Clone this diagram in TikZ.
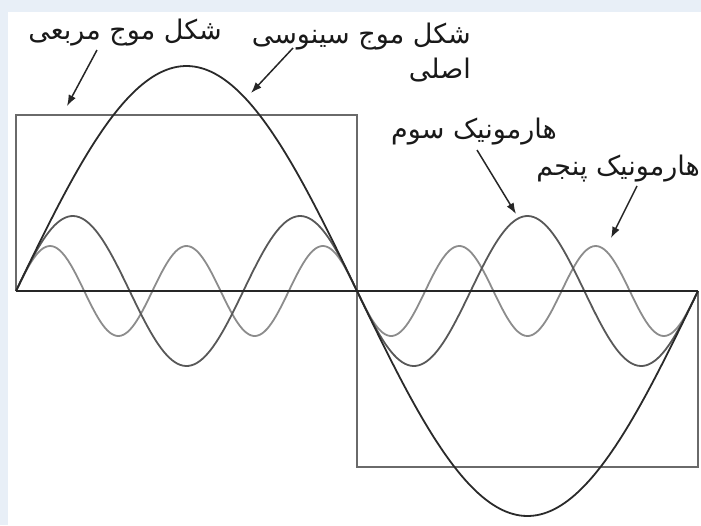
\documentclass[tikz,border=0pt]{standalone}
\usepackage{fontspec}
\newfontfamily\arabicfont[Script=Arabic]{DejaVu Sans}
\TeXXeTstate=1
\usetikzlibrary{arrows.meta}
\definecolor{bgblue}{HTML}{E8EFF7}
\definecolor{fundc}{HTML}{2A2A2A}
\definecolor{thirdc}{HTML}{585858}
\definecolor{fifthc}{HTML}{8C8C8C}
\definecolor{squarec}{HTML}{6A6A6A}
\tikzset{
  lbl/.style={font=\arabicfont\fontsize{27}{32}\selectfont, inner sep=0pt, text=black!90},
  pointer/.style={draw=black!85, line width=1.5pt, -{Latex[length=11pt,width=8pt]}},
  wave/.style={line width=1.8pt, line join=round},
}
\begin{document}
\begin{tikzpicture}[x=1pt,y=-1pt]
\useasboundingbox (0,0) rectangle (701,525);
\fill[bgblue] (0,0) rectangle (701,12);
\fill[bgblue] (0,0) rectangle (8,525);
% square wave
\draw[draw=squarec, line width=2pt]
  (16,291) -- (16,115) -- (357,115) -- (357,467) -- (698,467) -- (698,291);
% harmonics
\draw[wave, draw=fifthc] plot[domain=16:698, samples=300] (\x, {291-45*sin(2.639296*(\x-16))});
\draw[wave, draw=thirdc] plot[domain=16:698, samples=250] (\x, {291-75*sin(1.583578*(\x-16))});
\draw[wave, draw=fundc] plot[domain=16:698, samples=200] (\x, {291-225*sin(0.527859*(\x-16))});
% axis
\draw[line width=2.2pt, draw=black!85] (16,291) -- (698,291);
% labels
\node[lbl, anchor=east] (sq) at (222,33) {\beginR شکل موج مربعی\endR};
\node[lbl, anchor=east] (sin1) at (471,37) {\beginR شکل موج سینوسی\endR};
\node[lbl, anchor=east] (sin2) at (471,70) {\beginR اصلی\endR};
\node[lbl, anchor=east] (h3) at (557,132) {\beginR هارمونیک سوم\endR};
\node[lbl, anchor=east] (h5) at (700,169) {\beginR هارمونیک پنجم\endR};
% arrow endpoints
\coordinate (sqs) at (97,50);
\coordinate (sqt) at (67,106);
\coordinate (sins) at (293,48);
\coordinate (sint) at (251,93);
\coordinate (h3s) at (477,150);
\coordinate (h3t) at (516,214);
\coordinate (h5s) at (637,186);
\coordinate (h5t) at (611,238);
\draw[pointer] (sqs) -- (sqt);
\draw[pointer] (sins) -- (sint);
\draw[pointer] (h3s) -- (h3t);
\draw[pointer] (h5s) -- (h5t);
\end{tikzpicture}
\end{document}
